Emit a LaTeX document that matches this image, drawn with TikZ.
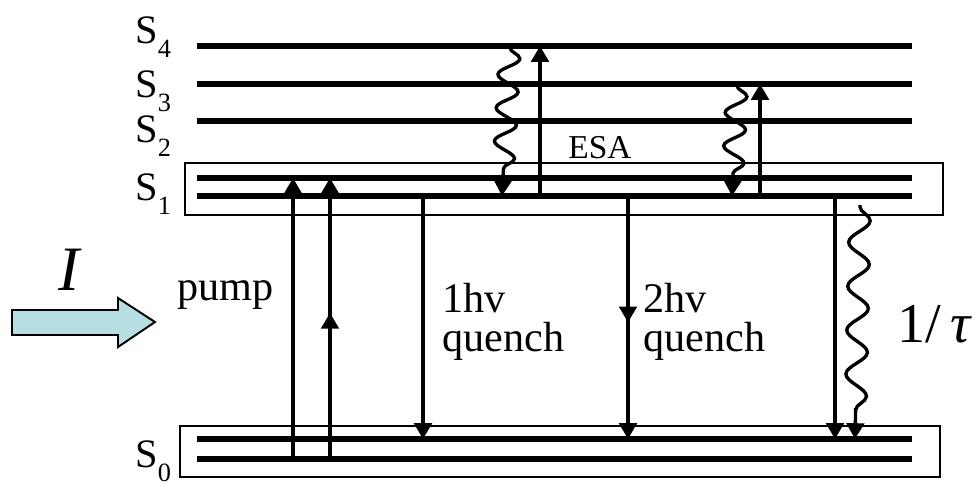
\documentclass[tikz,border=0pt]{standalone}
\usepackage{fontspec}
\setmainfont{Liberation Serif}
\usetikzlibrary{arrows.meta,decorations.pathmorphing,decorations.markings}

\begin{document}
\begin{tikzpicture}[x=0.02cm,y=-0.02cm,
  level/.style={line width=3.1pt},
  box/.style={line width=1.1pt},
  tip/.style={-{Triangle[width=10pt,length=9pt]}},
  trans/.style={line width=1.9pt,tip},
  midtip/.style={postaction={decorate},decoration={markings,
      mark=at position #1 with {\arrow{Triangle[width=10pt,length=9pt]}}}},
  wavy/.style={line width=1.9pt,tip,decorate,decoration={snake,
      segment length=19pt,amplitude=6pt,pre length=1pt,post length=9pt}},
  lbl/.style={inner sep=0pt,font=\fontsize{24}{22}\selectfont},
  slbl/.style={inner sep=0pt,anchor=base west,font=\fontsize{23}{23}\selectfont}]
\useasboundingbox (0,0) rectangle (976,481);
% boxes round S1 and S0
\draw[box] (185,163) rectangle (943,215);
\draw[box] (180,426) rectangle (940,477);
% levels
\foreach \n/\y in {s4/46,s3/84,s2/121,s1t/178,s1b/196,s0t/439,s0b/459}{
  \coordinate (\n) at (197,\y);
  \draw[level] (\n) -- ++(715,0);
}
\foreach \i/\y in {4/43,3/97,2/142,1/200,0/467}
  \node[slbl] (S\i) at (135,\y) {S\raisebox{-8.5pt}{\fontsize{15}{15}\selectfont\i}};
% x positions of the transitions
\coordinate (pA) at (293,0);
\coordinate (pB) at (330,0);
\coordinate (q1) at (423,0);
\coordinate (q2) at (628,0);
\coordinate (q3) at (835,0);
\coordinate (e1) at (540,0);
\coordinate (e2) at (760,0);
\coordinate (w1) at (510,0);
\coordinate (w1e) at (502,0);
\coordinate (w2) at (737,0);
\coordinate (w2e) at (732,0);
\coordinate (w3) at (860,205);
\coordinate (w3e) at (855,0);
% pump
\draw[trans] (pA |- s0b) -- (pA |- s1t);
\draw[trans,midtip=0.52] (pB |- s0b) -- (pB |- s1t);
% quench
\draw[trans] (q1 |- s1b) -- (q1 |- s0t);
\draw[trans,midtip=0.52] (q2 |- s1b) -- (q2 |- s0t);
\draw[trans] (q3 |- s1b) -- (q3 |- s0t);
% ESA
\draw[trans] (e1 |- s1b) -- (e1 |- s4);
\draw[trans] (e2 |- s1b) -- (e2 |- s3);
\draw[wavy] (w1 |- s4) -- (w1e |- s1b);
\draw[wavy] (w2 |- s3) -- (w2e |- s1b);
\draw[wavy,decoration={segment length=25pt}] (w3) -- (w3e |- s0t);
% labels
\node[inner sep=0pt,anchor=base west,font=\fontsize{19}{19}\selectfont] (esa) at (568,158) {ESA};
\node[lbl,anchor=base west] (pump) at (177,300) {pump};
\node[lbl,anchor=north west,align=left] (qa) at (442,283) {1hv\\quench};
\node[lbl,anchor=north west,align=left] (qb) at (643,283) {2hv\\quench};
\node[inner sep=0pt,anchor=base west,font=\fontsize{32}{32}\selectfont] (tau) at (897,342) {1/\,\itshape τ};
\node[inner sep=0pt,anchor=base west,font=\fontsize{36}{36}\selectfont\itshape] (int) at (58,290) {I};
% incoming light
\draw[line width=1.1pt,fill={rgb,255:red,183;green,222;blue,226}]
  (12,310) -- (118,310) -- (118,298) -- (155,322) -- (118,347) -- (118,335) -- (12,335) -- cycle;
\end{tikzpicture}
\end{document}
